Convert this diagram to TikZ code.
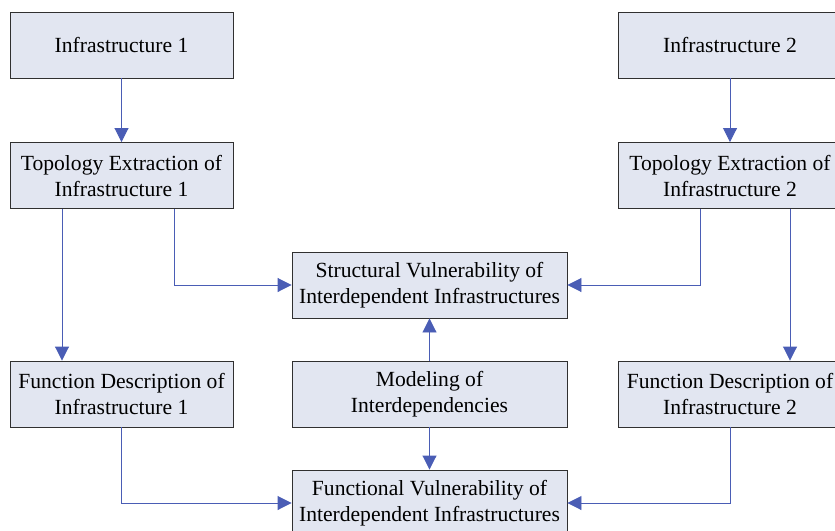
\documentclass[tikz,border=0pt]{standalone}
\usepackage{fontspec}
\setmainfont{Liberation Serif}
\usetikzlibrary{arrows.meta}
\definecolor{boxfill}{HTML}{E2E6F1}
\definecolor{boxline}{HTML}{303030}
\definecolor{arrcol}{HTML}{4A5DB5}
\begin{document}
\begin{tikzpicture}[x=1pt,y=1pt,
  blk/.style={draw=boxline, line width=0.9pt, fill=boxfill, minimum height=66pt, inner sep=0pt, align=center, font=\fontsize{21.6}{26}\selectfont},
  sbox/.style={blk, minimum width=223pt},
  wbox/.style={blk, minimum width=275pt},
  arr/.style={draw=arrcol, line width=0.9pt, -{Triangle[length=14pt,width=14pt]}}]
\useasboundingbox (0,0) rectangle (835,-530);
\clip (0,0) rectangle (835,-530);
\node[sbox] (inf1) at (121.5,-45) {Infrastructure 1};
\node[sbox] (topo1) at (121.5,-175.5) {Topology Extraction of\\Infrastructure 1};
\node[sbox] (func1) at (121.5,-394) {Function Description of\\Infrastructure 1};
\node[sbox] (inf2) at (730,-45) {Infrastructure 2};
\node[sbox] (topo2) at (730,-175.5) {Topology Extraction of\\Infrastructure 2};
\node[sbox] (func2) at (730,-394) {Function Description of\\Infrastructure 2};
\node[wbox] (struct) at (429.5,-285) {Structural Vulnerability of\\Interdependent Infrastructures};
\node[wbox] (model) at (429.5,-394) {Modeling of\\Interdependencies};
\node[wbox] (funcv) at (429.5,-503) {Functional Vulnerability of\\Interdependent Infrastructures};
\draw[arr] (inf1) -- (topo1);
\draw[arr] (inf2) -- (topo2);
\draw[arr] ([xshift=-59.5pt]topo1.south) -- ([xshift=-59.5pt]func1.north);
\draw[arr] ([xshift=52.5pt]topo1.south) |- (struct.west);
\draw[arr] ([xshift=-30pt]topo2.south) |- (struct.east);
\draw[arr] ([xshift=60pt]topo2.south) -- ([xshift=60pt]func2.north);
\draw[arr] (model) -- (struct);
\draw[arr] (model) -- (funcv);
\draw[arr] (func1.south) |- (funcv.west);
\draw[arr] (func2.south) |- (funcv.east);
\end{tikzpicture}
\end{document}
